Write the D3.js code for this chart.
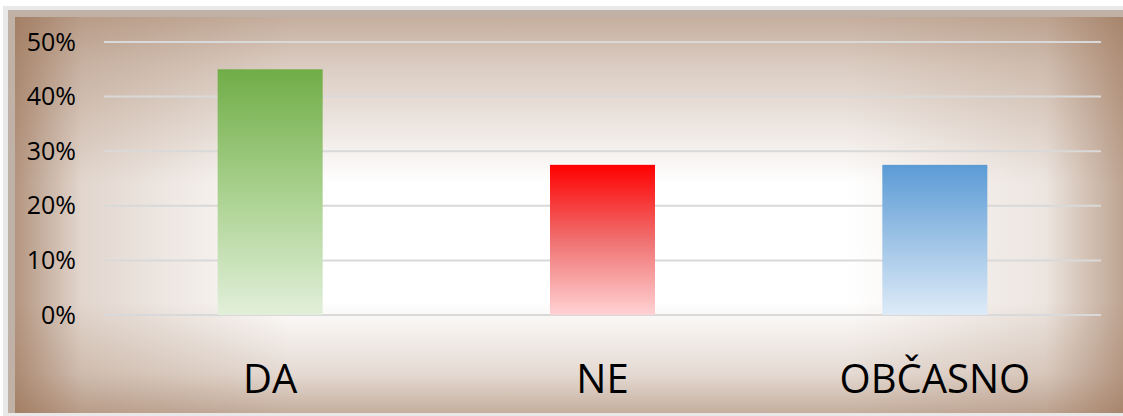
<!DOCTYPE html>
<html>
<head>
<meta charset="utf-8">
<script src="https://cdn.jsdelivr.net/npm/d3@7"></script>
<style>
  body { margin: 0; background: #fff; }
  text { font-family: "Open Sans", sans-serif; fill: #000; }
</style>
</head>
<body>
<div id="chart"></div>
<script>
// data
let categories = ["DA", "NE", "OBČASNO"]
let values = [0.45, 0.275, 0.275]
let tickValues = [0, 0.1, 0.2, 0.3, 0.4, 0.5]
let barColors = [
    ["#70ad47", "#a9d18e", "#e2efda"],
    ["#ff0000", "#f07070", "#ffd2d4"],
    ["#5b9bd5", "#9dc3e6", "#deebf7"]
]

let width = 1123
let height = 416

let svg = d3.select("#chart")
    .append("svg")
    .attr("width", width)
    .attr("height", height)

let defs = svg.append("defs")

// frame gradients (brown edges fading to a white centre)
let hGrad = defs.append("linearGradient").attr("id", "hgrad")
    .attr("x1", 0).attr("y1", 0).attr("x2", 1).attr("y2", 0)
;[[0, 0.72], [0.06, 0.28], [0.25, 0], [0.75, 0], [0.93, 0.18], [1, 0.62]].forEach(s => {
    hGrad.append("stop").attr("offset", s[0]).attr("stop-color", "rgb(150,108,78)").attr("stop-opacity", s[1])
})
let vGrad = defs.append("linearGradient").attr("id", "vgrad")
    .attr("x1", 0).attr("y1", 0).attr("x2", 0).attr("y2", 1)
;[[0, 0.55], [0.12, 0.35], [0.42, 0], [0.72, 0], [0.9, 0.25], [1, 0.55]].forEach(s => {
    vGrad.append("stop").attr("offset", s[0]).attr("stop-color", "rgb(150,108,78)").attr("stop-opacity", s[1])
})

barColors.forEach((c, i) => {
    let g = defs.append("linearGradient").attr("id", "bar" + i)
        .attr("x1", 0).attr("y1", 0).attr("x2", 0).attr("y2", 1)
    g.append("stop").attr("offset", 0).attr("stop-color", c[0])
    g.append("stop").attr("offset", 0.5).attr("stop-color", c[1])
    g.append("stop").attr("offset", 1).attr("stop-color", c[2])
})

// frame
svg.append("rect").attr("x", 3).attr("y", 6).attr("width", width - 3).attr("height", height - 6).attr("fill", "#e9e9e9")
svg.append("rect").attr("x", 8).attr("y", 10).attr("width", width - 8).attr("height", height - 13).attr("fill", "#bfb1a6")
let inner = { x: 15, y: 17, w: width - 15, h: 396 }
svg.append("rect").attr("x", inner.x).attr("y", inner.y).attr("width", inner.w).attr("height", inner.h).attr("fill", "#fff")
svg.append("rect").attr("x", inner.x).attr("y", inner.y).attr("width", inner.w).attr("height", inner.h).attr("fill", "url(#vgrad)")
svg.append("rect").attr("x", inner.x).attr("y", inner.y).attr("width", inner.w).attr("height", inner.h).attr("fill", "url(#hgrad)")

// scales
let x = d3.scaleBand()
    .domain(categories)
    .range([104, 1101])
    .paddingInner(0.684)
    .paddingOuter(0.342)

let y = d3.scaleLinear()
    .domain([0, 0.5])
    .range([315, 42])

// gridlines
svg.append("g")
    .selectAll("line")
    .data(tickValues)
    .enter()
    .append("line")
    .attr("x1", 104)
    .attr("x2", 1101)
    .attr("y1", d => y(d))
    .attr("y2", d => y(d))
    .attr("stroke", "#d9d9d9")
    .attr("stroke-width", 2)

// y axis labels
let yAxis = svg.append("g")
    .attr("transform", "translate(76,0)")
    .call(d3.axisLeft(y).tickValues(tickValues).tickFormat(d3.format(".0%")).tickSize(0).tickPadding(0))
yAxis.select(".domain").remove()
yAxis.selectAll("text")
    .style("font-family", "'Open Sans', sans-serif")
    .style("font-size", "25px")
    .attr("fill", "#000")

// bars
svg.append("g")
    .selectAll("rect")
    .data(values)
    .enter()
    .append("rect")
    .attr("x", (d, i) => x(categories[i]))
    .attr("width", x.bandwidth())
    .attr("y", d => y(d))
    .attr("height", d => y(0) - y(d))
    .attr("fill", (d, i) => "url(#bar" + i + ")")

// category labels
let xAxis = svg.append("g")
    .attr("transform", "translate(0,393)")
    .call(d3.axisBottom(x).tickSize(0).tickPadding(0))
xAxis.select(".domain").remove()
xAxis.selectAll("text")
    .attr("dy", 0)
    .style("font-family", "'Open Sans', sans-serif")
    .style("font-size", "40px")
    .attr("fill", "#000")
</script>
</body>
</html>
